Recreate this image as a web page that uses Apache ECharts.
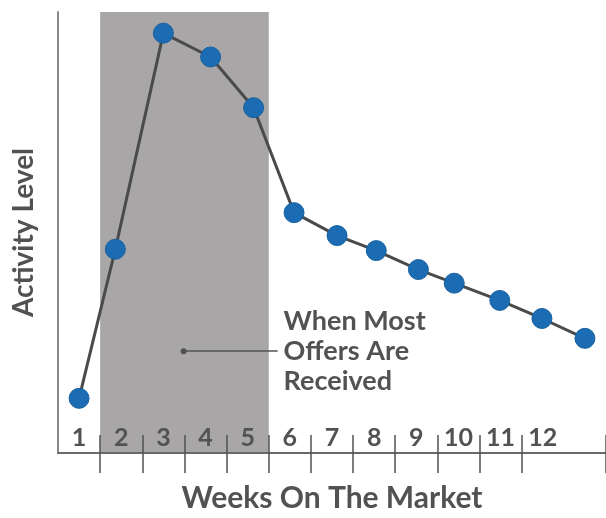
<!DOCTYPE html>
<html>
<head>
<meta charset="utf-8">
<title>Activity Level</title>
<script src="https://cdn.jsdelivr.net/npm/echarts@6/dist/echarts.min.js"></script>
<style>
html, body { margin:0; padding:0; background:#fff; }
#main { width:606px; height:518px; }
</style>
</head>
<body>
<div id="main"></div>
<script>
// week labels on the axis (13th slot is left empty)
var weekLabels = ['1','2','3','4','5','6','7','8','9','10','11','12',''];
// where each point sits along the week scale
var weekPos = [1, 1.86, 3, 4.12, 5.14, 6.1, 7.12, 8.05, 9.05, 9.9, 10.98, 11.98, 13];
// activity level, 0-100
var activity = [12.4, 46.2, 95.2, 89.8, 78.3, 54.5, 49.3, 45.9, 41.6, 38.5, 34.6, 30.5, 26.0];
// shaded "offers" weeks
var bandRange = [1.5, 5.5];
// annotation pointer
var noteStart = [3.48, 23.1];
var noteEnd = [5.71, 23.1];
var noteText = 'When Most\nOffers Are\nReceived';

var textGray = '#525252';
var font = 'Lato';

var points = [];
for (var i = 0; i < activity.length; i++) {
	points.push([weekPos[i], activity[i]]);
}

// ticks only between week labels 1..12
var tickFn = function (idx) { return idx >= 1 && idx <= 11; };

var chart = echarts.init(document.getElementById('main'));
var option = {
	animation: false,
	grid: { left:58, right:0, top:12, bottom:64 },
	xAxis: [
		{
			type:'category',
			data: weekLabels,
			boundaryGap:true,
			position:'bottom',
			z:10,
			name:'Weeks On The Market',
			nameLocation:'middle',
			nameGap:30,
			nameTextStyle:{ color:textGray, fontSize:30, fontWeight:'bold', fontFamily:font },
			axisLine:{ show:true, lineStyle:{ color:'#6a6a6a', width:2 } },
			axisTick:{ show:true, interval:tickFn, length:20, lineStyle:{ color:textGray, width:1.5 } },
			axisLabel:{ show:true, inside:true, margin:3, interval:0, color:textGray, fontSize:25, fontWeight:'bold', fontFamily:font },
			splitLine:{ show:false }
		},
		{
			type:'category',
			data: weekLabels,
			boundaryGap:true,
			position:'bottom',
			z:10,
			axisLine:{ show:false },
			axisTick:{ show:true, inside:true, interval:tickFn, length:18, lineStyle:{ color:textGray, width:1.5 } },
			axisLabel:{ show:false },
			splitLine:{ show:false }
		},
		{
			type:'value',
			min:0.5,
			max:13.5,
			show:false
		}
	],
	yAxis: {
		type:'value',
		min:0,
		max:100,
		name:'Activity Level',
		nameLocation:'middle',
		nameRotate:90,
		nameGap:20,
		nameTextStyle:{ color:textGray, fontSize:28, fontWeight:'bold', fontFamily:font },
		axisLine:{ show:true, lineStyle:{ color:'#8a8a8a', width:2 } },
		axisTick:{ show:false },
		axisLabel:{ show:false },
		splitLine:{ show:false }
	},
	series: [
		{
			type:'line',
			xAxisIndex:2,
			data: points,
			symbol:'circle',
			symbolSize:20,
			z:3,
			lineStyle:{ color:'#4a4a4a', width:3 },
			itemStyle:{ color:'#1b6cb2', borderColor:'#17609f', borderWidth:1 },
			markArea:{
				silent:true,
				z:1,
				itemStyle:{ color:'#a8a6a6' },
				data:[[ { xAxis:bandRange[0] }, { xAxis:bandRange[1] } ]]
			},
			markLine:{
				silent:true,
				z:4,
				symbol:['circle','none'],
				symbolSize:6,
				lineStyle:{ color:textGray, width:1.5, type:'solid' },
				label:{
					show:true,
					position:'end',
					distance:6,
					formatter:noteText,
					color:textGray,
					fontSize:27,
					lineHeight:30,
					fontWeight:'bold',
					fontFamily:font
				},
				data:[[ { coord:noteStart }, { coord:noteEnd } ]]
			}
		}
	]
};
chart.setOption(option);
</script>
</body>
</html>
